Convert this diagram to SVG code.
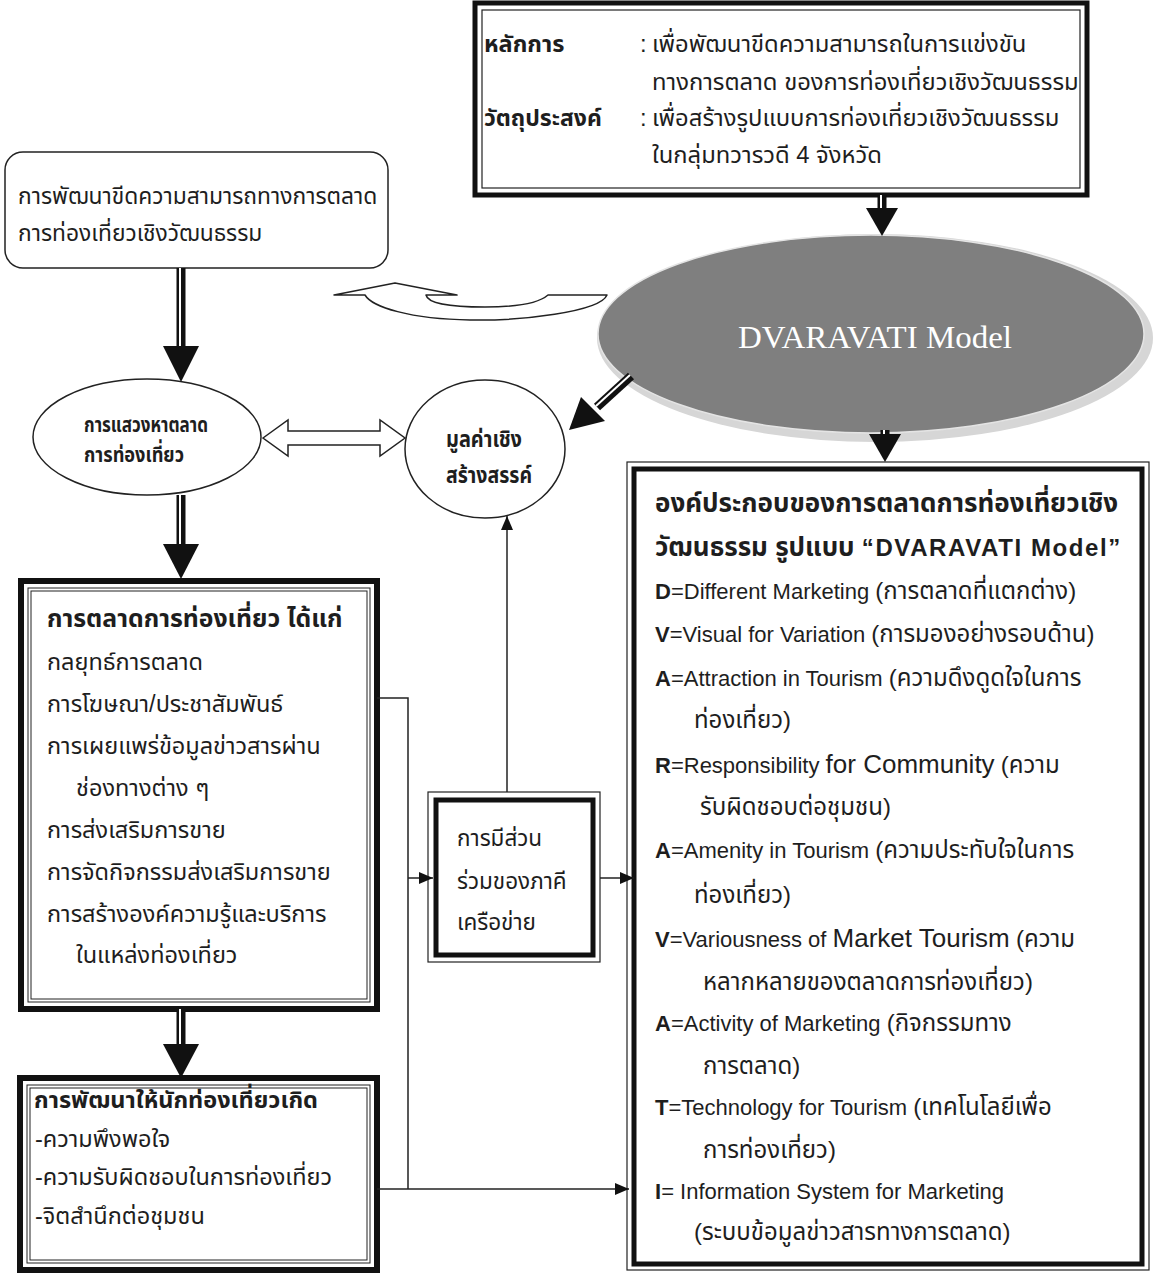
<svg xmlns="http://www.w3.org/2000/svg" width="1156" height="1276" viewBox="0 0 1156 1276">
<defs>
<style>
.t{font-family:"Liberation Sans","Noto Sans Thai","Loma","Garuda",sans-serif;font-size:23.5px;fill:#1e1e1e}
.r{font-family:"Liberation Sans","Noto Sans Thai","Loma","Garuda",sans-serif;font-size:22px;fill:#1e1e1e}
.th{font-size:24px}
.b{font-weight:bold}
.thin{fill:none;stroke:#222;stroke-width:1.5}
.thick{fill:none;stroke:#111;stroke-width:6}
.shaft{stroke:#111;stroke-width:9}
.shaftw{stroke:#fff;stroke-width:2}
.head{fill:#111}
.conn{fill:none;stroke:#222;stroke-width:1.5}
</style>
<marker id="ah" markerUnits="userSpaceOnUse" markerWidth="14" markerHeight="12" refX="14" refY="6" orient="auto">
<path d="M0,0 L14,6 L0,12 z" fill="#111"/>
</marker>
</defs>
<rect width="1156" height="1276" fill="#fff"/>

<g id="principle-box">
<rect x="475" y="3" width="612" height="192" class="thick" style="stroke-width:5"/>
<rect x="482" y="10" width="598" height="178" class="thin" style="stroke-width:1.2"/>
<text class="t b" x="484" y="52">หลักการ</text>
<text class="t" x="640" y="52" style="font-size:23.8px">:</text>
<text class="t" x="652" y="52" style="font-size:23.8px">เพื่อพัฒนาขีดความสามารถในการแข่งขัน</text>
<text class="t" x="652" y="90" style="font-size:23.8px">ทางการตลาด ของการท่องเที่ยวเชิงวัฒนธรรม</text>
<text class="t b" x="484" y="126" style="font-size:23px">วัตถุประสงค์</text>
<text class="t" x="640" y="126" style="font-size:23.8px">:</text>
<text class="t" x="652" y="126" style="font-size:23.8px">เพื่อสร้างรูปแบบการท่องเที่ยวเชิงวัฒนธรรม</text>
<text class="t" x="652" y="163" style="font-size:23.8px">ในกลุ่มทวารวดี 4 จังหวัด</text>
</g>

<g id="capability-box">
<rect x="5" y="152" width="383" height="116" rx="18" class="thin"/>
<text class="t" x="18" y="204" style="font-size:22.8px">การพัฒนาขีดความสามารถทางการตลาด</text>
<text class="t" x="18" y="241" style="font-size:22.8px">การท่องเที่ยวเชิงวัฒนธรรม</text>
</g>

<g id="dvaravati-model">
<ellipse cx="875" cy="338" rx="278" ry="104" fill="#d6d6d6"/>
<ellipse cx="871" cy="334" rx="273" ry="99" fill="#7f7f7f" stroke="#e4e4e4" stroke-width="1.5"/>
<text x="875" y="348" text-anchor="middle" font-family="Liberation Serif, serif" font-size="32" fill="#fff" textLength="274" lengthAdjust="spacingAndGlyphs">DVARAVATI Model</text>
</g>

<g id="market-seeking">
<ellipse cx="147" cy="437" rx="114" ry="58" class="thin"/>
<text class="t b" x="84" y="432" style="font-size:22px" textLength="124" lengthAdjust="spacingAndGlyphs">การแสวงหาตลาด</text>
<text class="t b" x="84" y="462" style="font-size:22px" textLength="100" lengthAdjust="spacingAndGlyphs">การท่องเที่ยว</text>
</g>

<g id="creative-value">
<ellipse cx="485" cy="449" rx="80" ry="69" class="thin"/>
<text class="t b" x="446" y="447" style="font-size:23px" textLength="76" lengthAdjust="spacingAndGlyphs">มูลค่าเชิง</text>
<text class="t b" x="446" y="483" style="font-size:23px" textLength="86" lengthAdjust="spacingAndGlyphs">สร้างสรรค์</text>
</g>

<g id="tourism-marketing">
<rect x="21" y="581" width="356" height="428" class="thick"/>
<rect x="28" y="588" width="342" height="414" class="thin" style="stroke-width:1"/>
<rect x="31" y="591" width="336" height="408" class="thin" style="stroke-width:1"/>
<text class="t b" x="47" y="627" style="font-size:24.8px">การตลาดการท่องเที่ยว ได้แก่</text>
<text class="t" x="47" y="670">กลยุทธ์การตลาด</text>
<text class="t" x="47" y="712">การโฆษณา/ประชาสัมพันธ์</text>
<text class="t" x="47" y="754">การเผยแพร่ข้อมูลข่าวสารผ่าน</text>
<text class="t" x="76" y="796">ช่องทางต่าง ๆ</text>
<text class="t" x="47" y="838">การส่งเสริมการขาย</text>
<text class="t" x="47" y="880">การจัดกิจกรรมส่งเสริมการขาย</text>
<text class="t" x="47" y="922">การสร้างองค์ความรู้และบริการ</text>
<text class="t" x="76" y="963">ในแหล่งท่องเที่ยว</text>
</g>

<g id="tourist-development">
<rect x="20" y="1078" width="357" height="192" class="thick"/>
<rect x="27" y="1085" width="343" height="178" class="thin" style="stroke-width:1"/>
<rect x="30" y="1088" width="337" height="172" class="thin" style="stroke-width:1"/>
<text class="t b" x="34" y="1108">การพัฒนาให้นักท่องเที่ยวเกิด</text>
<text class="t" x="35" y="1147">-ความพึงพอใจ</text>
<text class="t" x="35" y="1185">-ความรับผิดชอบในการท่องเที่ยว</text>
<text class="t" x="35" y="1224">-จิตสำนึกต่อชุมชน</text>
</g>

<g id="network-participation">
<rect x="428" y="792" width="172" height="170" class="thin" style="stroke-width:1.2"/>
<rect x="436" y="800" width="157" height="155" class="thick" style="stroke-width:5"/>
<text class="t" x="457" y="846" style="font-size:22.5px">การมีส่วน</text>
<text class="t" x="457" y="889" style="font-size:22.5px">ร่วมของภาคี</text>
<text class="t" x="457" y="930" style="font-size:22.5px">เครือข่าย</text>
</g>

<g id="dvaravati-components">
<rect x="627" y="462" width="522" height="808" class="thin" style="stroke-width:1.2"/>
<rect x="634" y="469" width="508" height="795" class="thick" style="stroke-width:5"/>
<text class="r b" x="655" y="512" style="font-size:26px">องค์ประกอบของการตลาดการท่องเที่ยวเชิง</text>
<text class="r b" x="655" y="556"><tspan style="font-size:26px">วัฒนธรรม รูปแบบ </tspan><tspan style="font-size:24px;letter-spacing:1.6px">“DVARAVATI Model”</tspan></text>
<text class="r" x="655" y="599"><tspan class="b">D</tspan>=Different Marketing <tspan class="th">(การตลาดที่แตกต่าง)</tspan></text>
<text class="r" x="655" y="642"><tspan class="b">V</tspan>=Visual for Variation <tspan class="th">(การมองอย่างรอบด้าน)</tspan></text>
<text class="r" x="655" y="686"><tspan class="b">A</tspan>=Attraction in Tourism <tspan class="th">(ความดึงดูดใจในการ</tspan></text>
<text class="r th" x="694" y="728">ท่องเที่ยว)</text>
<text class="r" x="655" y="773"><tspan class="b">R</tspan>=Responsibility <tspan style="font-size:26px">for Community</tspan> <tspan class="th">(ความ</tspan></text>
<text class="r th" x="700" y="815">รับผิดชอบต่อชุมชน)</text>
<text class="r" x="655" y="858"><tspan class="b">A</tspan>=Amenity in Tourism <tspan class="th">(ความประทับใจในการ</tspan></text>
<text class="r th" x="694" y="903">ท่องเที่ยว)</text>
<text class="r" x="655" y="947"><tspan class="b">V</tspan>=Variousness of <tspan style="font-size:26px">Market Tourism</tspan> <tspan class="th">(ความ</tspan></text>
<text class="r th" x="703" y="990">หลากหลายของตลาดการท่องเที่ยว)</text>
<text class="r" x="655" y="1031"><tspan class="b">A</tspan>=Activity of Marketing <tspan class="th">(กิจกรรมทาง</tspan></text>
<text class="r th" x="703" y="1074">การตลาด)</text>
<text class="r" x="655" y="1115"><tspan class="b">T</tspan>=Technology for Tourism <tspan class="th">(เทคโนโลยีเพื่อ</tspan></text>
<text class="r th" x="703" y="1158">การท่องเที่ยว)</text>
<text class="r" x="655" y="1199"><tspan class="b">I</tspan>= Information System for Marketing</text>
<text class="r th" x="694" y="1240">(ระบบข้อมูลข่าวสารทางการตลาด)</text>
</g>

<g id="connectors">
<line x1="882" y1="195" x2="882" y2="210" class="shaft"/>
<line x1="881" y1="195" x2="881" y2="210" class="shaftw"/>
<polygon points="866,208 898,208 882,236" class="head"/>

<line x1="181" y1="268" x2="181" y2="348" class="shaft"/>
<line x1="180" y1="268" x2="180" y2="348" class="shaftw"/>
<polygon points="163,346 199,346 181,382" class="head"/>

<line x1="181" y1="495" x2="181" y2="546" class="shaft"/>
<line x1="180" y1="495" x2="180" y2="546" class="shaftw"/>
<polygon points="163,544 199,544 181,579" class="head"/>

<line x1="181" y1="1009" x2="181" y2="1046" class="shaft"/>
<line x1="180" y1="1009" x2="180" y2="1046" class="shaftw"/>
<polygon points="163,1044 199,1044 181,1078" class="head"/>

<line x1="885" y1="430" x2="885" y2="436" class="shaft"/>
<line x1="884" y1="430" x2="884" y2="436" class="shaftw"/>
<polygon points="869,434 901,434 885,462" class="head"/>

<line x1="631" y1="376" x2="597" y2="407" class="shaft"/>
<line x1="630" y1="375" x2="596" y2="406" class="shaftw"/>
<polygon points="605,421 581,397 569,430" class="head"/>

<polygon points="263,438 288,420 288,431 380,431 380,420 405,438 380,456 380,445 288,445 288,456" fill="#fff" stroke="#222" stroke-width="1.5"/>

<path d="M334,295 L395,283 L457,295 L426,295 C428,305 460,307 485,307 C520,307 540,302 548,295 L607,295 C600,312 520,321 470,320 C410,319 372,307 365,295 Z" fill="#fff" stroke="#222" stroke-width="1.5" stroke-linejoin="round"/>

<path d="M377,698 H408 V1189" class="conn"/>
<path d="M408,878 H433" class="conn" marker-end="url(#ah)"/>
<path d="M377,1189 H629" class="conn" marker-end="url(#ah)"/>
<path d="M600,878 H634" class="conn" marker-end="url(#ah)"/>
<path d="M507,792 V516" class="conn" marker-end="url(#ah)"/>
</g>
</svg>
